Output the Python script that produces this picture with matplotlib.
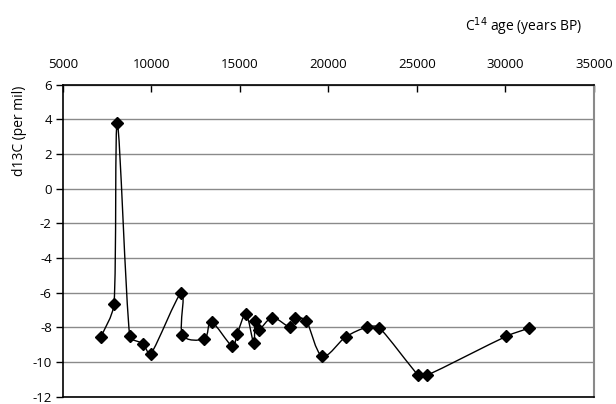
import numpy as np
import matplotlib.pyplot as plt
from matplotlib.path import Path
from matplotlib.patches import PathPatch

plt.rcParams['font.family'] = ['Open Sans', 'DejaVu Sans']
plt.rcParams['axes.unicode_minus'] = False

# radiocarbon age (years BP) and d13C (per mil)
age = [7150, 7890, 8080, 8780, 9510, 9980, 11700, 11750, 13000, 13400,
       14560, 14840, 15350, 15780, 15860, 16060, 16840, 17840, 18140, 18760,
       19650, 20980, 22170, 22890, 25090, 25580, 30060, 31320]
d13c = [-8.55, -6.63, 3.80, -8.50, -8.93, -9.51, -6.0, -8.42, -8.65, -7.69,
        -9.07, -8.40, -7.25, -8.88, -7.61, -8.15, -7.44, -7.98, -7.46, -7.63,
        -9.65, -8.55, -7.99, -8.03, -10.76, -10.76, -8.51, -8.05]

x_ticks = [5000, 10000, 15000, 20000, 25000, 30000, 35000]
y_ticks = [6, 4, 2, 0, -2, -4, -6, -8, -10, -12]

fig = plt.figure(figsize=(6.16, 4.04), dpi=100)
ax = fig.add_axes([0.102, 0.018, 0.862, 0.772])
ax.set_xlim(5000, 35000)
ax.set_ylim(-12, 6)


# smoothed line like excel's: catmull-rom bezier in pixel space, with the
# handle length capped by the segment length so short hops don't overshoot
def smooth_path(xs, ys, t=1.0 / 6, cap=0.35):
    p = ax.transData.transform(np.column_stack([xs, ys]))
    n = len(p)
    verts = [p[0]]
    codes = [Path.MOVETO]

    def handle(v, seg):
        ln = np.hypot(*v)
        if ln == 0:
            return v
        return v / ln * min(ln * t, seg * cap)

    for i in range(n - 1):
        seg = np.hypot(*(p[i + 1] - p[i]))
        p0 = p[i - 1] if i > 0 else p[i]
        p3 = p[i + 2] if i + 2 < n else p[i + 1]
        c1 = p[i] + handle(p[i + 1] - p0, seg)
        c2 = p[i + 1] - handle(p3 - p[i], seg)
        verts += [c1, c2, p[i + 1]]
        codes += [Path.CURVE4] * 3
    verts = ax.transData.inverted().transform(np.array(verts))
    return Path(verts, codes)


ax.add_patch(PathPatch(smooth_path(age, d13c), fill=False, edgecolor='black',
                       linewidth=1.0, zorder=3))
ax.plot(age, d13c, linestyle='none', marker='D', markersize=6.5,
        color='black', zorder=4)

ax.set_xticks(x_ticks)
ax.set_yticks(y_ticks)
ax.yaxis.grid(True, color='#8a8a8a', linewidth=1.0)
ax.set_axisbelow(True)

ax.xaxis.tick_top()
ax.tick_params(axis='x', direction='in', length=5, width=1, pad=10,
               labelsize=9.5, colors='black')
ax.tick_params(axis='y', direction='out', length=5, width=1, pad=3,
               labelsize=9.5)

for s in ['top', 'left', 'bottom']:
    ax.spines[s].set_color('black')
    ax.spines[s].set_linewidth(1.2)
ax.spines['right'].set_color('#8a8a8a')
ax.spines['right'].set_linewidth(1.5)

fig.text(0.031, 0.676, 'd13C (per mil)', rotation=90, fontsize=10,
         ha='center', va='center')
fig.text(0.755, 0.933, r'C$^{14}$ age (years BP)', fontsize=10,
         ha='left', va='center')

fig.savefig('out.png', dpi=100)
